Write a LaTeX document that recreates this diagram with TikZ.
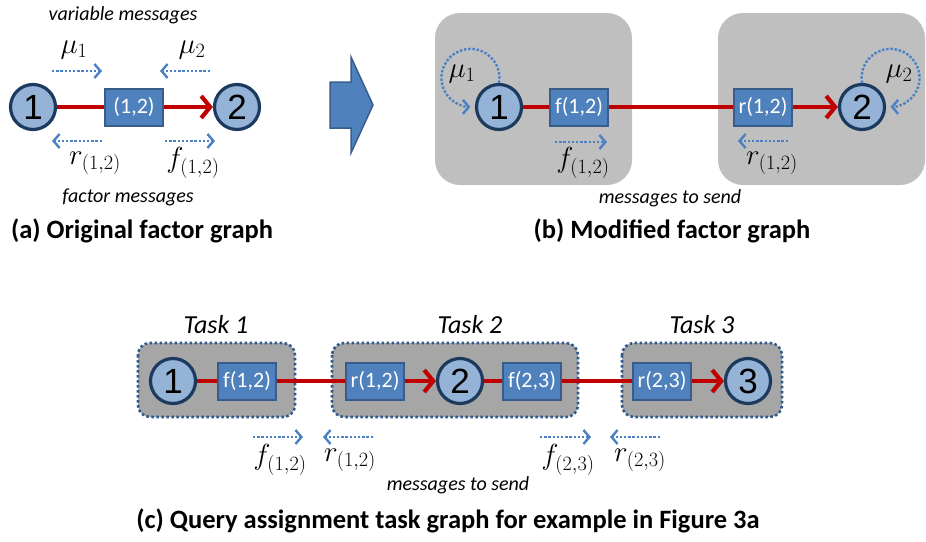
\RequirePackage{fix-cm}
\documentclass[tikz,border=0pt]{standalone}
\usepackage{fontspec}
\setmainfont{Carlito}
\newfontfamily\arialf{Liberation Sans}
\usetikzlibrary{arrows.meta}
\definecolor{navy}{HTML}{1B3A5E}
\definecolor{varfill}{HTML}{95B3D7}
\definecolor{facfill}{HTML}{4F81BD}
\definecolor{facdraw}{HTML}{385D8A}
\definecolor{redline}{HTML}{C00000}
\definecolor{msgblue}{HTML}{4A80C4}
\definecolor{grayb}{HTML}{BFBFBF}
\definecolor{grayc}{HTML}{A6A6A6}
\definecolor{taskborder}{HTML}{2F5A8C}
\begin{document}
\begin{tikzpicture}[x=1pt,y=-1pt,
  var/.style={circle, draw=navy, fill=varfill, line width=3.2pt, minimum size=45pt, inner sep=0pt, font=\arialf\fontsize{35}{35}\selectfont},
  fac/.style={rectangle, draw=facdraw, fill=facfill, line width=2pt, minimum height=37pt, minimum width=58pt, inner sep=0pt, text=white, font=\fontsize{22}{22}\selectfont},
  redge/.style={draw=redline, line width=4.2pt},
  redarrow/.style={redge, -{Straight Barb[length=9pt,width=22pt]}},
  msg/.style={draw=msgblue, line width=2.4pt, dash pattern=on 2.4pt off 1.8pt, -{Straight Barb[length=6pt,width=14pt]}},
  lbl/.style={font=\fontsize{29}{31}\selectfont, inner sep=0pt},
  note/.style={font=\itshape\fontsize{20}{22}\selectfont, inner sep=0pt},
  title/.style={font=\bfseries\fontsize{26.5}{28}\selectfont, inner sep=0pt},
  tasklbl/.style={font=\itshape\fontsize{26}{28}\selectfont, inner sep=0pt},
  graybox/.style={fill=grayb, rounded corners=25pt},
  taskbox/.style={fill=grayc, draw=taskborder, line width=2.6pt, dash pattern=on 2.6pt off 2.4pt, rounded corners=12pt}
]
\useasboundingbox (0,0) rectangle (926,541);

% ---------- (a) ----------
\node[note] (vm) at (123,15) {variable messages};
\node[var] (c1a) at (33,107) {1};
\node[fac] (fa) at (134,107) {(1,2)};
\node[var] (c2a) at (237,107) {2};
\draw[redge] (c1a) -- (fa);
\draw[redarrow] (fa) -- (c2a);
\coordinate (a1s) at (52,71); \coordinate (a1e) at (102,71);
\coordinate (a2s) at (210,71); \coordinate (a2e) at (160,71);
\coordinate (a3s) at (102,141); \coordinate (a3e) at (52,141);
\coordinate (a4s) at (165,141); \coordinate (a4e) at (215,141);
\draw[msg] (a1s) -- (a1e);
\draw[msg] (a2s) -- (a2e);
\draw[msg] (a3s) -- (a3e);
\draw[msg] (a4s) -- (a4e);
\node[lbl] (mu1a) at (74,50) {$\mu_1$};
\node[lbl] (mu2a) at (192,50) {$\mu_2$};
\node[lbl] (ra) at (95,163) {$r_{(1,2)}$};
\node[lbl] (fla) at (193,163) {$f_{(1,2)}$};
\node[note] (fm) at (128,197) {factor messages};
\node[title] (ta) at (142,231) {(a) Original factor graph};

% ---------- big arrow ----------
\draw[fill=facfill, draw=facdraw, line width=1.5pt, line join=miter]
  (330,82) -- (351,82) -- (351,57) -- (373,105) -- (351,153) -- (351,128) -- (330,128) -- cycle;

% ---------- (b) ----------
\path[graybox] (435,13) rectangle (632,185);
\path[graybox] (718,13) rectangle (925,185);
\node[var] (c1b) at (499,107) {1};
\node[fac] (fb) at (579,107) {f(1,2)};
\node[fac] (rb) at (763,107) {r(1,2)};
\node[var] (c2b) at (862,107) {2};
\draw[redge] (c1b) -- (fb);
\draw[redge] (fb) -- (rb);
\draw[redarrow] (rb) -- (c2b);
\draw[msg] (c1b.north) arc[start angle=-10, end angle=270, radius=29pt];
\draw[msg] (c2b.north) arc[start angle=190, end angle=-90, radius=29pt];
\node[lbl] (mu1b) at (462,74) {$\mu_1$};
\node[lbl] (mu2b) at (899,74) {$\mu_2$};
\coordinate (b1s) at (555,142); \coordinate (b1e) at (607,142);
\coordinate (b2s) at (788,141); \coordinate (b2e) at (738,141);
\draw[msg] (b1s) -- (b1e);
\draw[msg] (b2s) -- (b2e);
\node[lbl] (flb) at (583,163) {$f_{(1,2)}$};
\node[lbl] (rlb) at (772,163) {$r_{(1,2)}$};
\node[note] (msb) at (670,198) {messages to send};
\node[title] (tb) at (672,231) {(b) Modified factor graph};

% ---------- (c) ----------
\path[taskbox] (138,343) rectangle (295,417);
\path[taskbox] (332,343) rectangle (578,417);
\path[taskbox] (622,343) rectangle (782,417);
\node[tasklbl] (t1) at (216,325) {Task 1};
\node[tasklbl] (t2) at (470,325) {Task 2};
\node[tasklbl] (t3) at (702,325) {Task 3};
\node[var] (c1c) at (173,381) {1};
\node[fac] (f12c) at (247,381) {f(1,2)};
\node[fac] (r12c) at (375,381) {r(1,2)};
\node[var] (c2c) at (460,381) {2};
\node[fac] (f23c) at (532,381) {f(2,3)};
\node[fac] (r23c) at (662,381) {r(2,3)};
\node[var] (c3c) at (748,381) {3};
\draw[redge] (c1c) -- (f12c);
\draw[redge] (f12c) -- (r12c);
\draw[redarrow] (r12c) -- (c2c);
\draw[redge] (c2c) -- (f23c);
\draw[redge] (f23c) -- (r23c);
\draw[redarrow] (r23c) -- (c3c);
\coordinate (c1s) at (253,437); \coordinate (c1e) at (303,437);
\coordinate (c2s) at (373,437); \coordinate (c2e) at (323,437);
\coordinate (c3s) at (540,437); \coordinate (c3e) at (591,437);
\coordinate (c4s) at (660,437); \coordinate (c4e) at (610,437);
\draw[msg] (c1s) -- (c1e);
\draw[msg] (c2s) -- (c2e);
\draw[msg] (c3s) -- (c3e);
\draw[msg] (c4s) -- (c4e);
\node[lbl] (flc1) at (280,460) {$f_{(1,2)}$};
\node[lbl] (rlc1) at (350,460) {$r_{(1,2)}$};
\node[lbl] (flc2) at (568,460) {$f_{(2,3)}$};
\node[lbl] (rlc2) at (640,460) {$r_{(2,3)}$};
\node[note] (msc) at (458,485) {messages to send};
\node[title] (tc) at (448,521) {(c) Query assignment task graph for example in Figure 3a};
\end{tikzpicture}
\end{document}
